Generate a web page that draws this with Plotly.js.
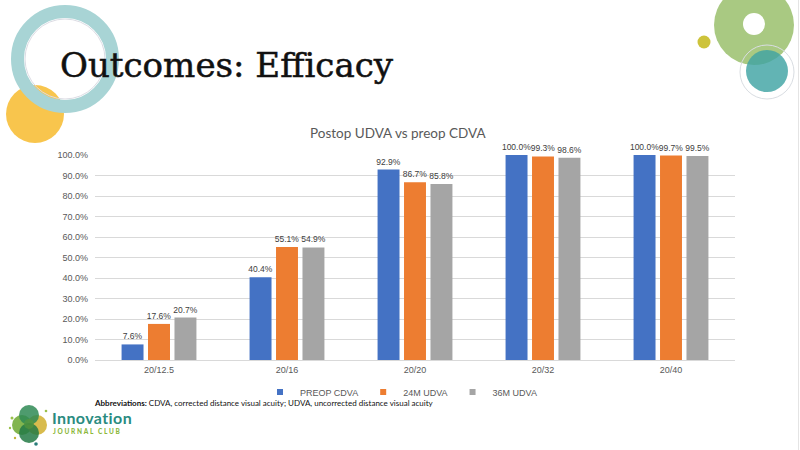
<!DOCTYPE html>
<html>
<head>
<meta charset="utf-8">
<script src="https://cdn.plot.ly/plotly-3.0.1.min.js"></script>
<style>
  html, body { margin:0; padding:0; background:#ffffff; }
  #wrap { position:relative; width:800px; height:450px; overflow:hidden; background:#fff; }
  #deco { position:absolute; left:0; top:0; z-index:0; }
  #chart { position:absolute; left:0; top:0; width:800px; height:450px; z-index:1; }
  #slideTitle { position:absolute; left:60px; top:49px; z-index:2; font-family:"DejaVu Serif", serif; font-size:33px; line-height:1; color:#111; -webkit-text-stroke:0.5px #111; white-space:nowrap; transform-origin:left top; }
  #logoText { position:absolute; left:52px; top:408px; z-index:2; font-family:Lato, sans-serif; font-size:16px; line-height:normal; font-weight:700; color:#2a8b80; white-space:nowrap; letter-spacing:0.4px; }
  #logoSub { position:absolute; left:53px; top:428px; z-index:2; font-family:Lato, sans-serif; font-size:6.5px; line-height:normal; font-weight:900; color:#8cb83c; letter-spacing:1.7px; white-space:nowrap; }
</style>
</head>
<body>
<div id="wrap">
  <svg id="deco" width="800" height="450" xmlns="http://www.w3.org/2000/svg">
    <circle cx="35" cy="114" r="29" fill="#f8c54d"/>
    <circle cx="65" cy="59" r="47.5" fill="none" stroke="#a8d4d5" stroke-width="13"/>
    <circle cx="65" cy="59" r="40" fill="none" stroke="#dcdce4" stroke-width="1"/>
    <circle cx="754" cy="25" r="40" fill="#a9c982"/>
    <circle cx="754" cy="24" r="11" fill="#ffffff"/>
    <circle cx="767" cy="72" r="27" fill="none" stroke="#d9dde2" stroke-width="1"/>
    <circle cx="767" cy="71" r="21" fill="#3fa3a3" fill-opacity="0.82"/>
    <circle cx="704" cy="42" r="6.5" fill="#cdc33b"/>
    <line x1="798.5" y1="0" x2="798.5" y2="450" stroke="#e4e4e4" stroke-width="1"/>
    <circle cx="22" cy="425" r="10" fill="#74ad3c" fill-opacity="0.9"/>
    <circle cx="37" cy="425" r="10" fill="#d4b43a" fill-opacity="0.9"/>
    <circle cx="29" cy="415" r="10" fill="#2f8a55" fill-opacity="0.85"/>
    <circle cx="29" cy="433" r="10" fill="#237a45" fill-opacity="0.85"/>
    <circle cx="29" cy="424" r="5" fill="#5a9a3a" fill-opacity="0.6"/>
    <circle cx="12" cy="418" r="1.5" fill="#9ac04a"/>
    <circle cx="10" cy="428" r="1.2" fill="#9ac04a"/>
    <circle cx="46" cy="411" r="1.3" fill="#9ac04a"/>
    <circle cx="36" cy="444" r="1.8" fill="#2a7d7a"/>
    <circle cx="15" cy="438" r="1.2" fill="#c4b33a"/>
  </svg>
  <div id="chart"></div>
  <div id="slideTitle">Outcomes: Efficacy</div>
  <div id="logoText">Innovation</div>
  <div id="logoSub">JOURNAL CLUB</div>
</div>
<script>
// ---- data ----
const categories = ["20/12.5", "20/16", "20/20", "20/32", "20/40"];
const preopCDVA = [7.6, 40.4, 92.9, 100.0, 100.0];
const udva24M   = [17.6, 55.1, 86.7, 99.3, 99.7];
const udva36M   = [20.7, 54.9, 85.8, 98.6, 99.5];
const seriesNames = ["PREOP CDVA", "24M UDVA", "36M UDVA"];
const yTickVals = [0, 10, 20, 30, 40, 50, 60, 70, 80, 90, 100];

// fit slide title width
(function(){
  const t = document.getElementById("slideTitle");
  const w = t.getBoundingClientRect().width;
  t.style.transform = "scaleX(" + (333 / w) + ")";
})();

// ---- layout helpers ----
const M = {l: 95, r: 65, t: 155, b: 90};
const PW = 800 - M.l - M.r, PH = 450 - M.t - M.b;
const px = x => (x - M.l) / PW;
const py = y => (450 - M.b - y) / PH;

const colors = ["#4472c4", "#ed7d31", "#a5a5a5"];
const seriesVals = [preopCDVA, udva24M, udva36M];

const traces = seriesVals.map((vals, i) => ({
  type: "bar",
  name: seriesNames[i],
  x: categories,
  y: vals,
  marker: {color: colors[i]},
  text: vals.map(v => v.toFixed(1) + "%"),
  textposition: "outside",
  textfont: {family: "Liberation Sans, Arial, sans-serif", size: 8.5, color: "#404040"},
  constraintext: "none",
  cliponaxis: false,
  hoverinfo: "none",
  showlegend: false,
  legendgroup: "g" + i
}));

// legend-only entries with small square swatches
seriesNames.forEach((n, i) => {
  traces.push({
    type: "scatter", mode: "markers",
    name: n, x: [categories[0]], y: [null],
    marker: {color: colors[i], symbol: "square", size: 6},
    showlegend: true, legendgroup: "g" + i, hoverinfo: "none"
  });
});

const layout = {
  width: 800, height: 450,
  margin: M,
  paper_bgcolor: "rgba(0,0,0,0)",
  plot_bgcolor: "rgba(0,0,0,0)",
  barmode: "group",
  bargap: 0.38,
  bargroupgap: 0.17,
  font: {family: "Liberation Sans, Arial, sans-serif", size: 9, color: "#595959"},
  xaxis: {
    type: "category",
    showgrid: false, showline: false, zeroline: false,
    ticks: "",
    tickfont: {size: 9, color: "#595959"},
    ticklabelstandoff: 3
  },
  yaxis: {
    range: [0, 100],
    tickvals: yTickVals,
    ticktext: yTickVals.map(v => v.toFixed(1) + "%"),
    showgrid: true, gridcolor: "#d9d9d9", gridwidth: 1,
    zeroline: true, zerolinecolor: "#d9d9d9", zerolinewidth: 1,
    showline: false, ticks: "",
    tickfont: {size: 9, color: "#595959"},
    ticklabelstandoff: 6
  },
  showlegend: true,
  legend: {
    orientation: "h",
    x: px(401), xanchor: "center",
    y: py(392), yanchor: "middle",
    font: {size: 9, color: "#595959"},
    itemwidth: 30,
    bgcolor: "rgba(0,0,0,0)"
  },
  annotations: [
    {
      xref: "paper", yref: "paper",
      x: px(398), y: py(133), xanchor: "center", yanchor: "middle",
      text: "Postop UDVA vs preop CDVA",
      showarrow: false,
      font: {family: "Lato, Carlito, sans-serif", size: 13.5, color: "#595959"}
    },
    {
      xref: "paper", yref: "paper",
      x: px(93), y: py(402.5), xanchor: "left", yanchor: "middle",
      text: "<b>Abbreviations:</b> CDVA, corrected distance visual acuity; UDVA, uncorrected distance visual acuity",
      showarrow: false, borderpad: 0,
      font: {family: "Lato, sans-serif", size: 8, color: "#111111"}
    }
  ]
};

Plotly.newPlot("chart", traces, layout, {staticPlot: true, displayModeBar: false});
</script>
</body>
</html>
